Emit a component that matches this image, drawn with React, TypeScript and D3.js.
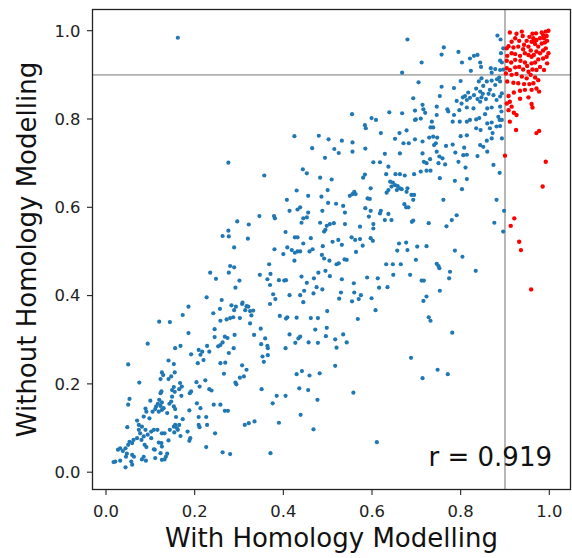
import React from 'react';
import * as d3 from 'd3';

const xTicks = [0, 0.2, 0.4, 0.6, 0.8, 1.0];
const yTicks = [0, 0.2, 0.4, 0.6, 0.8, 1.0];
const threshold = 0.9;
const rValue = 0.919;
const xLabel = 'With Homology Modelling';
const yLabel = 'Without Homology Modelling';

// points below the 0.9 threshold on the x axis (blue)
const bluePoints: [number, number][] = [
  [0.186,0.315],[0.245,0.306],[0.268,0.307],[0.274,0.304],[0.290,0.311],[0.094,0.291],[0.168,0.286],[0.156,0.281],[0.209,0.277],[0.228,0.286],
  [0.217,0.273],[0.213,0.266],[0.233,0.273],[0.192,0.267],[0.258,0.288],[0.253,0.285],[0.263,0.294],[0.277,0.270],[0.288,0.281],[0.220,0.254],
  [0.207,0.247],[0.141,0.253],[0.153,0.245],[0.258,0.247],[0.269,0.248],[0.307,0.242],[0.317,0.232],[0.050,0.244],[0.126,0.226],[0.129,0.220],
  [0.155,0.226],[0.266,0.223],[0.075,0.203],[0.123,0.211],[0.141,0.211],[0.147,0.217],[0.167,0.202],[0.165,0.188],[0.171,0.194],[0.153,0.193],
  [0.149,0.186],[0.155,0.182],[0.204,0.204],[0.224,0.208],[0.233,0.188],[0.238,0.185],[0.211,0.194],[0.192,0.183],[0.189,0.179],[0.292,0.203],
  [0.294,0.199],[0.302,0.214],[0.311,0.217],[0.125,0.183],[0.123,0.179],[0.053,0.166],[0.050,0.153],[0.100,0.162],[0.120,0.164],[0.126,0.158],
  [0.117,0.155],[0.123,0.150],[0.113,0.149],[0.111,0.143],[0.119,0.137],[0.126,0.141],[0.130,0.145],[0.143,0.155],[0.147,0.160],[0.149,0.171],
  [0.138,0.134],[0.153,0.149],[0.156,0.143],[0.089,0.144],[0.091,0.137],[0.085,0.126],[0.098,0.122],[0.105,0.137],[0.170,0.173],[0.205,0.156],
  [0.188,0.140],[0.213,0.145],[0.243,0.153],[0.258,0.153],[0.268,0.139],[0.275,0.139],[0.158,0.125],[0.173,0.120],[0.048,0.102],[0.070,0.117],
  [0.074,0.107],[0.081,0.103],[0.074,0.096],[0.077,0.088],[0.089,0.096],[0.085,0.081],[0.102,0.092],[0.108,0.096],[0.094,0.085],[0.070,0.077],
  [0.080,0.073],[0.053,0.069],[0.059,0.066],[0.062,0.073],[0.050,0.062],[0.044,0.054],[0.032,0.054],[0.027,0.051],[0.038,0.048],[0.047,0.042],
  [0.045,0.035],[0.059,0.039],[0.063,0.035],[0.087,0.062],[0.091,0.057],[0.102,0.077],[0.108,0.052],[0.116,0.096],[0.126,0.088],[0.132,0.088],
  [0.144,0.096],[0.153,0.103],[0.156,0.107],[0.162,0.096],[0.154,0.090],[0.141,0.072],[0.125,0.066],[0.119,0.067],[0.126,0.058],[0.110,0.051],
  [0.123,0.043],[0.138,0.042],[0.135,0.035],[0.111,0.032],[0.126,0.028],[0.132,0.029],[0.081,0.029],[0.090,0.026],[0.085,0.035],[0.057,0.024],
  [0.059,0.017],[0.044,0.011],[0.021,0.024],[0.017,0.023],[0.032,0.026],[0.168,0.082],[0.184,0.092],[0.190,0.077],[0.188,0.071],[0.209,0.107],
  [0.211,0.102],[0.228,0.107],[0.226,0.125],[0.246,0.088],[0.226,0.057],[0.263,0.045],[0.280,0.041],[0.313,0.107],[0.322,0.111],[0.209,0.125],
  [0.165,0.107],[0.160,0.100],
  [0.408,0.617],[0.414,0.592],[0.432,0.595],[0.438,0.600],[0.456,0.588],[0.445,0.575],[0.441,0.565],[0.453,0.577],[0.488,0.592],[0.501,0.610],
  [0.519,0.608],[0.535,0.603],[0.539,0.588],[0.483,0.565],[0.498,0.558],[0.505,0.562],[0.514,0.564],[0.539,0.562],[0.492,0.545],[0.495,0.549],
  [0.346,0.580],[0.379,0.580],[0.381,0.575],[0.296,0.568],[0.322,0.561],[0.263,0.535],[0.276,0.547],[0.277,0.534],[0.320,0.529],[0.289,0.509],
  [0.405,0.544],[0.426,0.532],[0.432,0.532],[0.462,0.530],[0.445,0.518],[0.466,0.505],[0.459,0.500],[0.432,0.500],[0.426,0.497],[0.438,0.500],
  [0.419,0.503],[0.409,0.509],[0.400,0.494],[0.380,0.505],[0.425,0.479],[0.489,0.512],[0.487,0.492],[0.492,0.484],[0.504,0.479],[0.520,0.471],
  [0.525,0.473],[0.538,0.482],[0.543,0.481],[0.511,0.522],[0.524,0.526],[0.532,0.515],[0.368,0.471],[0.347,0.447],[0.371,0.449],[0.364,0.437],
  [0.390,0.435],[0.402,0.434],[0.406,0.435],[0.370,0.424],[0.441,0.443],[0.453,0.429],[0.469,0.439],[0.479,0.452],[0.495,0.456],[0.505,0.444],
  [0.532,0.437],[0.475,0.419],[0.488,0.414],[0.447,0.411],[0.438,0.401],[0.414,0.401],[0.468,0.405],[0.530,0.407],[0.526,0.393],[0.377,0.403],
  [0.382,0.392],[0.370,0.381],[0.445,0.385],[0.280,0.467],[0.289,0.464],[0.277,0.452],[0.235,0.452],[0.248,0.438],[0.301,0.434],[0.292,0.418],
  [0.227,0.396],[0.261,0.390],[0.186,0.375],[0.173,0.356],[0.242,0.360],[0.257,0.370],[0.283,0.378],[0.293,0.375],[0.307,0.381],[0.317,0.376],
  [0.314,0.367],[0.321,0.375],[0.325,0.365],[0.332,0.366],[0.328,0.355],[0.289,0.367],[0.287,0.351],[0.280,0.349],[0.272,0.346],[0.258,0.343],
  [0.302,0.349],[0.308,0.384],[0.325,0.337],[0.245,0.324],[0.349,0.325],[0.392,0.354],[0.406,0.348],[0.409,0.351],[0.430,0.350],[0.462,0.349],
  [0.478,0.349],[0.499,0.365],[0.498,0.327],[0.472,0.323],[0.496,0.308],[0.517,0.301],[0.535,0.312],[0.520,0.282],[0.517,0.241],[0.414,0.312],
  [0.438,0.307],[0.434,0.303],[0.427,0.293],[0.457,0.294],[0.478,0.293],[0.405,0.281],[0.359,0.303],[0.350,0.290],[0.334,0.311],[0.364,0.286],
  [0.365,0.281],[0.365,0.265],[0.353,0.262],[0.356,0.250],[0.543,0.294],
  [0.335,0.115],[0.351,0.188],[0.376,0.156],[0.385,0.173],[0.405,0.173],[0.390,0.112],[0.439,0.130],[0.468,0.097],[0.371,0.043],[0.430,0.222],
  [0.442,0.229],[0.459,0.219],[0.482,0.224],[0.436,0.190],[0.456,0.186],[0.477,0.164],
  [0.560,0.407],[0.555,0.387],[0.570,0.392],[0.575,0.401],[0.599,0.394],[0.608,0.367],[0.568,0.347],[0.753,0.411],[0.723,0.398],[0.716,0.388],
  [0.728,0.351],[0.732,0.343],[0.781,0.316],[0.558,0.180],[0.611,0.068],[0.688,0.259],[0.714,0.213],[0.748,0.232],[0.771,0.222],[0.834,0.456],
  [0.896,0.545],
  [0.584,0.786],[0.586,0.779],[0.609,0.798],[0.697,0.798],[0.735,0.794],[0.732,0.781],[0.738,0.781],[0.782,0.794],[0.798,0.794],[0.814,0.794],
  [0.480,0.762],[0.502,0.754],[0.532,0.751],[0.556,0.747],[0.515,0.732],[0.525,0.723],[0.556,0.726],[0.465,0.734],[0.494,0.712],[0.585,0.733],
  [0.620,0.768],[0.662,0.768],[0.678,0.774],[0.652,0.755],[0.671,0.745],[0.683,0.745],[0.697,0.754],[0.714,0.749],[0.729,0.758],[0.738,0.760],
  [0.747,0.758],[0.744,0.745],[0.740,0.741],[0.767,0.739],[0.782,0.742],[0.800,0.761],[0.814,0.763],[0.808,0.735],[0.714,0.722],[0.717,0.703],
  [0.723,0.700],[0.731,0.709],[0.746,0.726],[0.752,0.715],[0.759,0.711],[0.788,0.724],[0.806,0.718],[0.814,0.719],[0.750,0.700],[0.765,0.697],
  [0.795,0.703],[0.811,0.690],[0.663,0.722],[0.629,0.721],[0.603,0.702],[0.618,0.702],[0.637,0.692],[0.632,0.675],[0.653,0.675],[0.663,0.675],
  [0.674,0.672],[0.695,0.675],[0.710,0.681],[0.723,0.683],[0.732,0.683],[0.753,0.666],[0.787,0.660],[0.814,0.664],[0.803,0.641],[0.444,0.686],
  [0.453,0.677],[0.483,0.667],[0.509,0.663],[0.584,0.674],[0.580,0.667],[0.597,0.643],[0.560,0.635],[0.556,0.630],[0.550,0.626],[0.563,0.630],
  [0.500,0.639],[0.486,0.624],[0.456,0.626],[0.641,0.658],[0.647,0.656],[0.652,0.650],[0.658,0.648],[0.663,0.643],[0.667,0.641],[0.656,0.639],
  [0.637,0.639],[0.633,0.633],[0.680,0.643],[0.678,0.635],[0.689,0.628],[0.695,0.628],[0.693,0.617],[0.673,0.607],[0.677,0.600],[0.682,0.600],
  [0.644,0.647],[0.590,0.620],[0.595,0.619],[0.585,0.598],[0.597,0.592],[0.593,0.579],[0.618,0.586],[0.620,0.592],[0.637,0.585],[0.644,0.571],
  [0.629,0.571],[0.603,0.562],[0.603,0.552],[0.573,0.556],[0.597,0.530],[0.602,0.524],[0.554,0.532],[0.562,0.526],[0.573,0.528],[0.579,0.513],
  [0.564,0.499],[0.693,0.570],[0.690,0.567],[0.728,0.564],[0.761,0.617],[0.780,0.571],[0.791,0.582],[0.768,0.557],[0.787,0.502],[0.804,0.488],
  [0.723,0.512],[0.702,0.511],[0.680,0.503],[0.661,0.518],[0.677,0.520],[0.657,0.502],[0.699,0.481],[0.746,0.472],[0.750,0.467],[0.752,0.462],
  [0.776,0.454],[0.774,0.439],[0.712,0.434],[0.717,0.434],[0.686,0.447],[0.648,0.447],[0.647,0.471],[0.632,0.471],[0.665,0.471],[0.613,0.439],
  [0.589,0.441],[0.635,0.419],[0.616,0.418],[0.559,0.428],
  [0.680,0.980],[0.762,0.962],[0.757,0.946],[0.795,0.952],[0.803,0.928],[0.712,0.928],[0.821,0.937],[0.830,0.943],[0.838,0.945],[0.844,0.928],
  [0.846,0.918],[0.823,0.909],[0.883,0.989],[0.890,0.980],[0.896,0.960],[0.891,0.949],[0.889,0.932],[0.893,0.928],[0.868,0.915],[0.870,0.905],
  [0.878,0.913],[0.889,0.911],[0.896,0.912],[0.705,0.883],[0.757,0.873],[0.785,0.870],[0.800,0.886],[0.817,0.860],[0.810,0.852],[0.805,0.849],
  [0.814,0.843],[0.821,0.848],[0.830,0.854],[0.841,0.885],[0.847,0.892],[0.851,0.875],[0.835,0.869],[0.844,0.862],[0.850,0.857],[0.859,0.885],
  [0.870,0.887],[0.878,0.877],[0.882,0.890],[0.887,0.894],[0.889,0.885],[0.866,0.866],[0.863,0.857],[0.857,0.845],[0.838,0.845],[0.847,0.849],
  [0.844,0.839],[0.874,0.854],[0.889,0.851],[0.893,0.858],[0.881,0.843],[0.753,0.852],[0.746,0.828],[0.791,0.841],[0.802,0.835],[0.770,0.822],
  [0.772,0.817],[0.797,0.820],[0.829,0.824],[0.693,0.847],[0.697,0.819],[0.714,0.832],[0.716,0.822],[0.720,0.814],[0.699,0.799],[0.710,0.801],
  [0.746,0.809],[0.785,0.809],[0.814,0.826],[0.870,0.826],[0.860,0.824],[0.889,0.828],[0.892,0.817],[0.885,0.805],[0.888,0.798],[0.842,0.802],
  [0.821,0.798],[0.835,0.799],[0.855,0.811],[0.860,0.790],[0.870,0.792],[0.881,0.783],[0.889,0.784],[0.866,0.779],[0.845,0.775],[0.835,0.779],
  [0.872,0.768],[0.893,0.756],[0.870,0.756],[0.859,0.751],[0.851,0.737],[0.844,0.741],[0.860,0.726],[0.838,0.716],[0.874,0.696],[0.888,0.678],
  [0.893,0.798],
  [0.881,0.617],[0.898,0.592],[0.876,0.565],[0.162,0.984],[0.425,0.761],[0.276,0.701],[0.357,0.672],[0.430,0.638],[0.120,0.341],[0.144,0.340],
  [0.555,0.811],[0.599,0.802],[0.639,0.815],[0.668,0.813],[0.668,0.905],
];

// points at or above the 0.9 threshold on the x axis (red)
const redPoints: [number, number][] = [
  [0.911,0.996],[0.938,0.998],[0.962,0.993],[0.970,0.994],[0.983,0.996],[0.986,0.990],[0.992,0.998],[0.998,1.000],[0.994,0.988],[0.988,0.983],
  [0.979,0.983],[0.971,0.979],[0.964,0.983],[0.960,0.975],[0.949,0.977],[0.943,0.968],[0.932,0.977],[0.923,0.983],[0.915,0.975],[0.908,0.965],
  [0.904,0.960],[0.919,0.962],[0.930,0.964],[0.941,0.958],[0.953,0.964],[0.958,0.955],[0.968,0.970],[0.975,0.964],[0.983,0.971],[0.990,0.973],
  [0.995,0.977],[0.992,0.960],[0.986,0.955],[0.979,0.949],[0.971,0.953],[0.965,0.945],[0.960,0.941],[0.953,0.945],[0.945,0.949],[0.934,0.943],
  [0.923,0.947],[0.915,0.949],[0.905,0.943],[0.904,0.932],[0.914,0.928],[0.923,0.934],[0.935,0.932],[0.945,0.928],[0.950,0.920],[0.960,0.926],
  [0.968,0.928],[0.975,0.935],[0.986,0.937],[0.994,0.941],[0.998,0.949],[0.995,0.926],[0.988,0.911],[0.979,0.918],[0.971,0.911],[0.962,0.912],
  [0.953,0.907],[0.941,0.912],[0.932,0.918],[0.923,0.917],[0.911,0.911],[0.904,0.915],[0.902,0.903],[0.915,0.900],[0.926,0.902],[0.938,0.896],
  [0.949,0.892],[0.958,0.900],[0.968,0.894],[0.975,0.888],[0.964,0.881],[0.955,0.879],[0.943,0.879],[0.930,0.881],[0.919,0.882],[0.905,0.885],
  [0.971,0.869],[0.977,0.862],[0.960,0.866],[0.945,0.866],[0.934,0.864],[0.920,0.860],[0.908,0.852],[0.904,0.835],[0.911,0.839],[0.915,0.828],
  [0.920,0.814],[0.926,0.809],[0.960,0.834],[0.962,0.826],[0.953,0.849],[0.934,0.846],[0.908,0.820],[0.911,0.794],[0.925,0.775],[0.971,0.768],
  [0.977,0.773],[0.900,0.717],[0.992,0.703],[0.985,0.647],[0.965,0.975],[0.955,0.986],[0.940,0.988],[0.926,0.993],[0.932,0.522],[0.936,0.503],
  [0.959,0.414],[0.921,0.575],[0.913,0.558],
];

export default function App() {
  const W = 572;
  const H = 558;
  const left = 92.5, right = 570.5, top = 9.5, bottom = 489.5;
  const x = d3.scaleLinear().domain([-0.0305, 1.0478]).range([left, right]);
  const y = d3.scaleLinear().domain([-0.0392, 1.048]).range([bottom, top]);
  const fmt = d3.format('.1f');
  const font = 'DejaVu Sans, sans-serif';
  const tickColor = '#222';

  return (
    <svg width={W} height={H} style={{ position: 'absolute', left: 0, top: 0, background: '#fff' }}>
      <rect x={0} y={0} width={W} height={H} fill="#fff" />
      {/* reference lines */}
      <line x1={x(threshold)} x2={x(threshold)} y1={top} y2={bottom} stroke="#b0b0b0" strokeWidth={1.8} />
      <line x1={left} x2={right} y1={y(threshold)} y2={y(threshold)} stroke="#b0b0b0" strokeWidth={1.8} />
      {/* points */}
      <g>
        {bluePoints.map((p, i) => (
          <circle key={'b' + i} cx={x(p[0])} cy={y(p[1])} r={2.1} fill="#1f77b4" />
        ))}
        {redPoints.map((p, i) => (
          <circle key={'r' + i} cx={x(p[0])} cy={y(p[1])} r={2.2} fill="#ff0000" />
        ))}
      </g>
      {/* frame */}
      <rect x={left} y={top} width={right - left} height={bottom - top} fill="none" stroke={tickColor} strokeWidth={1.3} />
      {/* x ticks */}
      {xTicks.map((t) => (
        <g key={'xt' + t}>
          <line x1={x(t)} x2={x(t)} y1={bottom} y2={bottom + 5.5} stroke={tickColor} strokeWidth={1.1} />
          <text x={x(t)} y={517} textAnchor="middle" fontFamily={font} fontSize={16.4} fill={tickColor}>{fmt(t)}</text>
        </g>
      ))}
      {/* y ticks */}
      {yTicks.map((t) => (
        <g key={'yt' + t}>
          <line x1={left - 5.5} x2={left} y1={y(t)} y2={y(t)} stroke={tickColor} strokeWidth={1.1} />
          <text x={left - 12} y={y(t)} dy="0.36em" textAnchor="end" fontFamily={font} fontSize={16.4} fill={tickColor}>{fmt(t)}</text>
        </g>
      ))}
      {/* axis labels */}
      <text x={(left + right) / 2} y={547} textAnchor="middle" fontFamily={font} fontSize={26} fill="#111">{xLabel}</text>
      <text transform={`translate(35.5, ${(top + bottom) / 2}) rotate(-90)`} textAnchor="middle" fontFamily={font} fontSize={26} fill="#111">{yLabel}</text>
      {/* correlation annotation */}
      <text x={552} y={466} textAnchor="end" fontFamily={font} fontSize={26} fill="#111">{`r = ${rValue}`}</text>
    </svg>
  );
}
